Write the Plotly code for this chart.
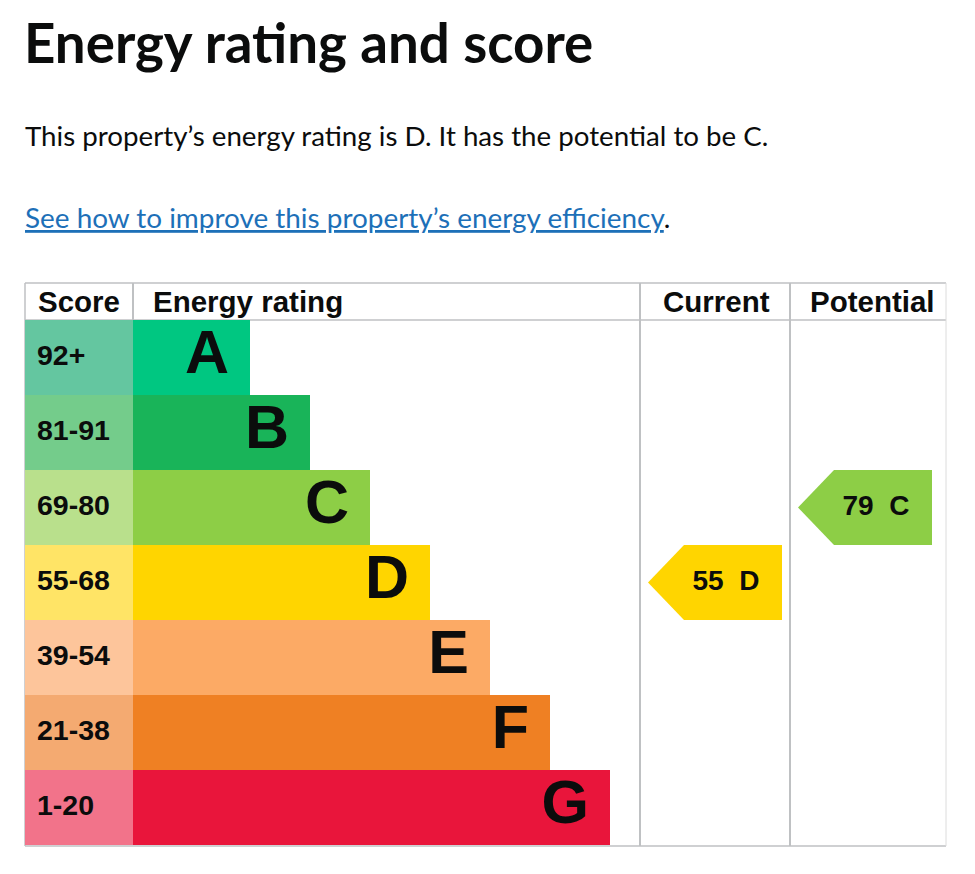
import plotly.graph_objects as go

# ---------------- data ----------------
bands = ["A", "B", "C", "D", "E", "F", "G"]
score_ranges = ["92+", "81-91", "69-80", "55-68", "39-54", "21-38", "1-20"]
band_colors = ["#00c781", "#19b459", "#8dce46", "#ffd500", "#fcaa65", "#ef8023", "#e9153b"]
score_colors = ["#64c6a0", "#74cc8b", "#b9e08c", "#ffe466", "#fdc59b", "#f4aa71", "#f2738a"]
current_score = 55
current_band = "D"
potential_score = 79
potential_band = "C"
headers = ["Score", "Energy rating", "Current", "Potential"]
title_text = "Energy rating and score"
summary_text = "This property’s energy rating is D. It has the potential to be C."
link_text = "See how to improve this property’s energy efficiency"

# ---------------- layout constants (page pixels) ----------------
W, H = 975, 874
OFF = 8  # page body margin
TABLE_L, TABLE_R = 25, 946
HEAD_T, HEAD_B, BODY_B = 283, 320, 845
SCORE_R = 133
CUR_L, POT_L = 640, 790
GRID = "#bfc1c3"
INK = "#0b0c0c"
TABLE_FONT = "Liberation Sans, Arial, sans-serif"
PAGE_FONT = "Lato, sans-serif"


def py(p):
    return 1 - (p - OFF) / H


idx = list(range(len(bands)))
bar_ends = [SCORE_R + 57 + 60 * (i + 1) for i in idx]

fig = go.Figure()

# score cells
fig.add_trace(go.Bar(
    orientation="h", y=idx, x=[SCORE_R - TABLE_L] * len(bands), base=TABLE_L,
    width=1, marker=dict(color=score_colors, line=dict(width=0)),
    hoverinfo="skip", showlegend=False))

# rating bars
fig.add_trace(go.Bar(
    orientation="h", y=idx, x=[e - SCORE_R for e in bar_ends], base=SCORE_R,
    width=1, marker=dict(color=band_colors, line=dict(width=0)),
    hoverinfo="skip", showlegend=False))

# score labels
fig.add_trace(go.Scatter(
    x=[TABLE_L + 12] * len(bands), y=idx, mode="text", text=score_ranges,
    textposition="middle right",
    textfont=dict(family=TABLE_FONT, size=28.5, color=INK, weight="bold"),
    hoverinfo="skip", showlegend=False))

# band letters
fig.add_trace(go.Scatter(
    x=[e - 21 for e in bar_ends], y=idx, mode="text", text=bands,
    textposition="middle left",
    textfont=dict(family=TABLE_FONT, size=61, color=INK, weight="bold"),
    hoverinfo="skip", showlegend=False))


def add_arrow(score, band, tip_x, right_x):
    i = bands.index(band)
    color = band_colors[i]
    xs = [tip_x, tip_x + 36, right_x, right_x, tip_x + 36, tip_x]
    ys = [i, i - 0.5, i - 0.5, i + 0.5, i + 0.5, i]
    fig.add_trace(go.Scatter(
        x=xs, y=ys, mode="lines", fill="toself", fillcolor=color,
        line=dict(width=0, color=color), hoverinfo="skip", showlegend=False))
    fig.add_trace(go.Scatter(
        x=[tip_x + 78], y=[i], mode="text",
        text=[f"{score}\u00a0\u00a0{band}"], textposition="middle center",
        textfont=dict(family=TABLE_FONT, size=28, color=INK, weight="bold"),
        hoverinfo="skip", showlegend=False))


add_arrow(current_score, current_band, CUR_L + 8, CUR_L + 142)
add_arrow(potential_score, potential_band, POT_L + 8, POT_L + 142)

# table lines
shapes = []


def hline(yp, x0, x1, w=1.5):
    shapes.append(dict(type="line", xref="x", yref="paper", x0=x0, x1=x1,
                       y0=py(yp), y1=py(yp), line=dict(color=GRID, width=w),
                       layer="below"))


def vline(xp, y0, y1, w=2, color=GRID):
    shapes.append(dict(type="line", xref="x", yref="paper", x0=xp, x1=xp,
                       y0=py(y0), y1=py(y1), line=dict(color=color, width=w),
                       layer="below"))


hline(HEAD_T, TABLE_L, TABLE_R)
hline(HEAD_B, TABLE_L, TABLE_R)
hline(BODY_B + 1, TABLE_L, TABLE_R)
vline(TABLE_L, HEAD_T, BODY_B + 1, 1.5)
vline(SCORE_R, HEAD_T, HEAD_B)
vline(CUR_L, HEAD_T, BODY_B + 1)
vline(POT_L, HEAD_T, BODY_B + 1)
vline(TABLE_R, HEAD_T, BODY_B + 1, 1, "#dcdcdc")

annotations = []
head_y = py((HEAD_T + HEAD_B) / 2)
head_font = dict(family=TABLE_FONT, size=29.5, color=INK, weight="bold")
annotations.append(dict(text=headers[0], x=TABLE_L + 11, xref="x", xanchor="left",
                        y=head_y, yref="paper", yanchor="middle", showarrow=False, font=head_font))
annotations.append(dict(text=headers[1], x=SCORE_R + 18, xref="x", xanchor="left",
                        y=head_y, yref="paper", yanchor="middle", showarrow=False, font=head_font))
annotations.append(dict(text=headers[2], x=(CUR_L + POT_L) / 2 + 1, xref="x", xanchor="center",
                        y=head_y, yref="paper", yanchor="middle", showarrow=False, font=head_font))
annotations.append(dict(text=headers[3], x=(POT_L + TABLE_R) / 2 + 4, xref="x", xanchor="center",
                        y=head_y, yref="paper", yanchor="middle", showarrow=False, font=head_font))

annotations.append(dict(text=f"<b>{title_text}</b>", x=TABLE_L - 3, xref="x", xanchor="left",
                        y=py(42), yref="paper", yanchor="middle", showarrow=False,
                        font=dict(family=PAGE_FONT, size=54.7, color=INK)))
annotations.append(dict(text=summary_text, x=TABLE_L - 2, xref="x", xanchor="left",
                        y=py(136), yref="paper", yanchor="middle", showarrow=False,
                        font=dict(family=PAGE_FONT, size=27.7, color=INK)))
annotations.append(dict(text=f"<span style='color:#1d70b8'><u>{link_text}</u></span>.",
                        x=TABLE_L - 2, xref="x", xanchor="left",
                        y=py(217), yref="paper", yanchor="middle", showarrow=False,
                        font=dict(family=PAGE_FONT, size=27.9, color=INK)))

fig.update_layout(
    width=W, height=H, margin=dict(l=0, r=0, t=0, b=0),
    paper_bgcolor="white", plot_bgcolor="rgba(0,0,0,0)",
    barmode="overlay", bargap=0,
    xaxis=dict(range=[OFF, W + OFF], domain=[0, 1], visible=False, fixedrange=True),
    yaxis=dict(range=[6.5, -0.5], domain=[py(BODY_B), py(HEAD_B)], visible=False,
               fixedrange=True),
    shapes=shapes, annotations=annotations, showlegend=False,
)

fig.write_html("out.html", config={"displayModeBar": False})
